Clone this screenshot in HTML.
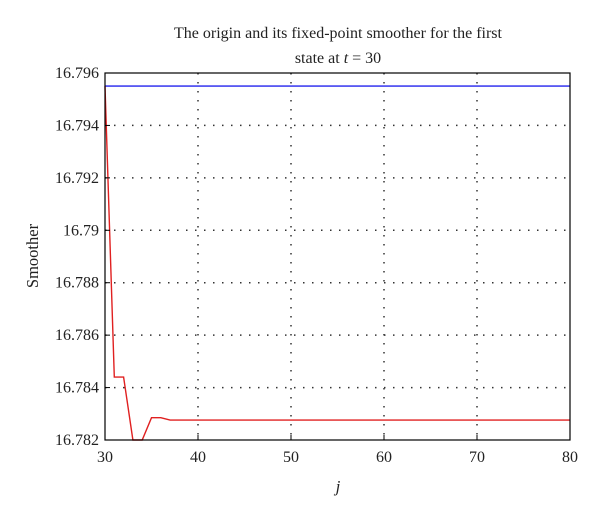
<!DOCTYPE html>
<html><head><meta charset="utf-8"><style>
body{margin:0;background:#fff;}
svg text{font-family:"Liberation Serif",serif;fill:#222;}
</style></head><body>
<svg id="chart" width="600" height="514" xmlns="http://www.w3.org/2000/svg">
<text x="338" y="38" font-size="16" text-anchor="middle">The origin and its fixed-point smoother for the first</text>
<text x="338" y="63" font-size="16" text-anchor="middle">state at <tspan font-style="italic">t</tspan> = 30</text>
<g id="grid"></g>
<g id="series"></g>
<rect x="105" y="73" width="465" height="367" fill="none" stroke="#000" stroke-width="1.2"/>
<g id="ticks"></g>
<text transform="translate(38,256) rotate(-90)" font-size="16.5" text-anchor="middle">Smoother</text>
<text x="338" y="492" font-size="17" font-style="italic" text-anchor="middle">j</text>
</svg>
<script>
const xTicks=[30,40,50,60,70,80];
const yTicks=[16.782,16.784,16.786,16.788,16.79,16.792,16.794,16.796];
const yTickLabels=["16.782","16.784","16.786","16.788","16.79","16.792","16.794","16.796"];
const jValues=[30,31,32,33,34,35,36,37,38,80];
const smootherValues=[16.7955,16.7844,16.7844,16.782,16.782,16.78285,16.78285,16.78276,16.78276,16.78276];
const originValue=16.7955;
const L=105,R=570,T=73,B=440;
const xs=v=>L+(v-30)/50*(R-L);
const ys=v=>B-(v-16.782)/0.014*(B-T);
const NS="http://www.w3.org/2000/svg";
function mk(tag,attrs,parent){const e=document.createElementNS(NS,tag);for(const k in attrs)e.setAttribute(k,attrs[k]);parent.appendChild(e);return e;}
const grid=document.getElementById('grid'),ticks=document.getElementById('ticks'),series=document.getElementById('series');
xTicks.forEach(v=>{
  const x=xs(v);
  if(v>30&&v<80){const g=mk('line',{x1:x,x2:x,y1:T,y2:B,stroke:'#333','stroke-width':1.5,'stroke-dasharray':'1.5 7.5'},grid);
  
  }
  const t=mk('line',{x1:x,x2:x,y1:B,y2:B-5,stroke:'#000'},ticks);
  
  
  const l=mk('text',{x:x,y:B+22,'font-size':16,'text-anchor':'middle'},ticks);l.textContent=v;
  
  
});
yTicks.forEach((v,i)=>{
  const y=ys(v);
  if(i>0&&i<yTicks.length-1){const g=mk('line',{x1:L,x2:R,y1:y,y2:y,stroke:'#333','stroke-width':1.5,'stroke-dasharray':'1.5 7.5'},grid);
  
  }
  const t=mk('line',{x1:L,x2:L+5,y1:y,y2:y,stroke:'#000'},ticks);
  
  
  const l=mk('text',{x:L-6,y:y+5,'font-size':16,'text-anchor':'end'},ticks);l.textContent=yTickLabels[i];
  
  
});
const blue=mk('line',{x1:xs(30),x2:xs(80),y1:ys(originValue),y2:ys(originValue),stroke:'#2222ee','stroke-width':1.4},series);


const red=mk('polyline',{points:jValues.map((j,i)=>xs(j)+','+ys(smootherValues[i])).join(' '),fill:'none',stroke:'#e02020','stroke-width':1.4},series);


</script>
</body></html>
